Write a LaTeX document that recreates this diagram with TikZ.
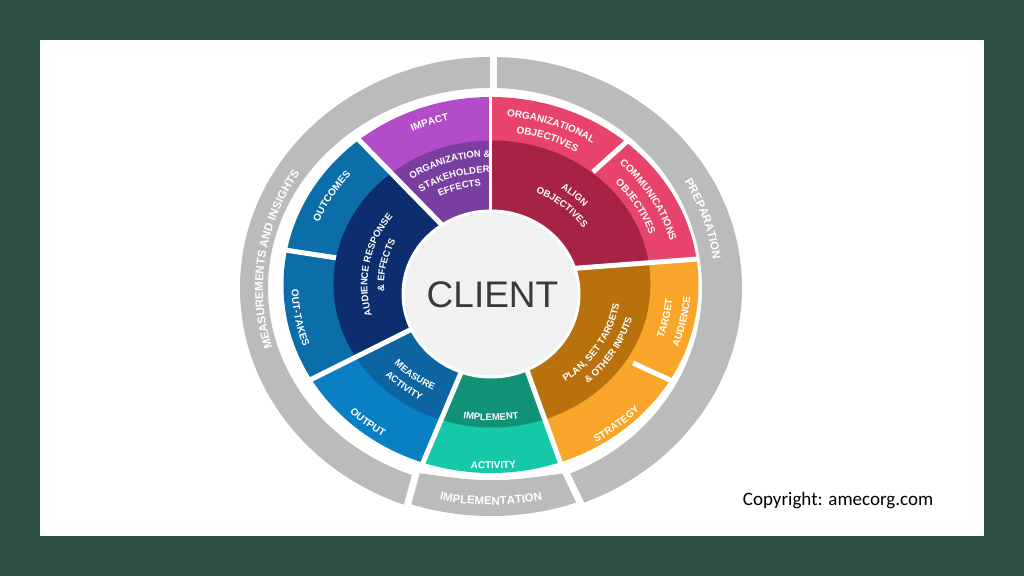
\documentclass[tikz,border=0pt]{standalone}
\usepackage{fontspec}
\setmainfont{Liberation Sans}
\newfontfamily\copyfont{Carlito}
\usetikzlibrary{calc,decorations.text}
\definecolor{bgc}{RGB}{47,79,71}
\definecolor{ringg}{RGB}{187,187,187}
\definecolor{impactc}{RGB}{178,76,200}
\definecolor{orgc}{RGB}{122,62,160}
\definecolor{pinkc}{RGB}{232,67,106}
\definecolor{alignc}{RGB}{166,35,68}
\definecolor{orangec}{RGB}{248,165,42}
\definecolor{planc}{RGB}{184,113,12}
\definecolor{tealc}{RGB}{20,200,168}
\definecolor{implc}{RGB}{16,146,118}
\definecolor{outputc}{RGB}{10,128,196}
\definecolor{measc}{RGB}{12,100,160}
\definecolor{outc}{RGB}{12,110,168}
\definecolor{navyc}{RGB}{12,46,110}
\definecolor{clientc}{RGB}{241,241,241}
\definecolor{clienttext}{RGB}{58,58,58}
\tikzset{
  gapline/.style={white, line width=5pt},
  ringgap/.style={white, line width=7pt},
}
\newcommand\gapdef[3]{%
  \coordinate (#1i) at #2; \coordinate (#1o) at #3;
  \coordinate (#1n) at ($(#1i)!-0.3!(#1o)$);
  \coordinate (#1f) at ($(#1i)!4!(#1o)$);}
\newcommand\segfill[3]{\fill[#1] (cc) -- (#2n) -- (#2f) -- (#3f) -- (#3n) -- cycle;}
% clockwise label (tops outward)
\newcommand\arccw[4]{%
  \path[decorate, decoration={text along path, text align=center,
    text={|\fontsize{#3}{#3}\selectfont\bfseries\color{white}|#4}}]
    ($(wc)+({#2*cos(#1+40)},{0.906*#2*sin(#1+40)})$)
    arc[start angle={#1+40}, end angle={#1-40}, x radius={#2}, y radius={0.906*#2}];}
% counter-clockwise label (tops inward)
\newcommand\arcccw[4]{%
  \path[decorate, decoration={text along path, text align=center,
    text={|\fontsize{#3}{#3}\selectfont\bfseries\color{white}|#4}}]
    ($(wc)+({#2*cos(#1-40)},{0.906*#2*sin(#1-40)})$)
    arc[start angle={#1-40}, end angle={#1+40}, x radius={#2}, y radius={0.906*#2}];}
\newcommand\ringcw[4]{%
  \path[decorate, decoration={text along path, text align=center,
    text={|\fontsize{11.5}{11.5}\selectfont\bfseries\color{white}|#4}}]
    ($(rc)+({#2*cos(#1+50)},{#3*sin(#1+50)})$)
    arc[start angle={#1+50}, end angle={#1-50}, x radius={#2}, y radius={#3}];}
\newcommand\ringccw[4]{%
  \path[decorate, decoration={text along path, text align=center,
    text={|\fontsize{11.5}{11.5}\selectfont\bfseries\color{white}|#4}}]
    ($(rc)+({#2*cos(#1-50)},{#3*sin(#1-50)})$)
    arc[start angle={#1-50}, end angle={#1+50}, x radius={#2}, y radius={#3}];}
\begin{document}
\begin{tikzpicture}[x=1pt,y=1pt]
\useasboundingbox (0,0) rectangle (1024,576);
\fill[bgc] (0,0) rectangle (1024,576);
\fill[white] (40,40) rectangle (984,536);
\coordinate (wc) at (491,291);
\coordinate (ic) at (492,292);
\coordinate (rc) at (491,288);
\coordinate (cc) at (491,282);
\gapdef{ga}{(490.5,365)}{(490.5,479)}
\gapdef{gb}{(440,353)}{(357,438)}
\gapdef{gc}{(337,318)}{(285,326)}
\gapdef{gd}{(410,246)}{(310,196)}
\gapdef{ge}{(460,201)}{(422,111)}
\gapdef{gf}{(528,203)}{(562,109)}
\gapdef{gg}{(633,213)}{(672,195)}
\gapdef{gh}{(579,308)}{(698,317)}
\gapdef{gi}{(593,404)}{(623,431)}
% outer band
\begin{scope}
\clip (wc) ellipse [x radius=207.5, y radius=188];
\segfill{impactc}{ga}{gb}
\segfill{outc}{gb}{gc}
\segfill{outc}{gc}{gd}
\segfill{outputc}{gd}{ge}
\segfill{tealc}{ge}{gf}
\segfill{orangec}{gf}{gg}
\segfill{orangec}{gg}{gh}
\segfill{pinkc}{gh}{gi}
\segfill{pinkc}{gi}{ga}
\end{scope}
\draw[gapline] (gci) -- ($(gci)!1.4!(gco)$);
\draw[gapline] (ggi) -- ($(ggi)!1.4!(ggo)$);
\draw[gapline] (gii) -- ($(gii)!1.4!(gio)$);
% inner band
\begin{scope}
\clip (ic) ellipse [x radius=158.5, y radius=143.5];
\segfill{orgc}{ga}{gb}
\segfill{navyc}{gb}{gd}
\segfill{measc}{gd}{ge}
\segfill{implc}{ge}{gf}
\segfill{planc}{gf}{gh}
\segfill{alignc}{gh}{ga}
\end{scope}
\draw[gapline, line width=3pt] (gan) -- ($(gai)!1.3!(gao)$);
\draw[gapline] (gbn) -- ($(gbi)!1.3!(gbo)$);
\draw[gapline] (gdn) -- ($(gdi)!1.3!(gdo)$);
\draw[gapline] (gen) -- ($(gei)!1.3!(geo)$);
\draw[gapline] (gfn) -- ($(gfi)!1.3!(gfo)$);
\draw[gapline] (ghn) -- ($(ghi)!1.3!(gho)$);
% client
\fill[clientc, draw=white, line width=3pt] (cc) ellipse [x radius=88, y radius=83];
% gray ring: measurements
\begin{scope}
\clip (493.5,288) -- (493.5,700) -- (-50,700) -- (-50,-60) -- (372.2,-60) -- (465.9,288) -- cycle;
\fill[ringg, even odd rule] (rc) ellipse [x radius=251, y radius=231] (rc) ellipse [x radius=223, y radius=200];
\end{scope}
% preparation
\begin{scope}
\clip (493.5,288) -- (493.5,700) -- (1100,700) -- (1100,-60) -- (644.3,-60) -- (519.5,200) -- (493.5,200) -- cycle;
\fill[ringg, even odd rule] (rc) ellipse [x radius=251, y radius=231] (rc) ellipse [x radius=211, y radius=200];
\end{scope}
% implementation
\begin{scope}
\clip (372.2,-60) -- (428.7,150) -- (543.5,150) -- (644.3,-60) -- cycle;
\clip (360,112) -- (400,105.5) .. controls (492,92.5) .. (584,105.5) -- (624,112) -- (624,0) -- (360,0) -- cycle;
\fill[ringg] (rc) ellipse [x radius=251, y radius=228];
\end{scope}
\draw[ringgap] (493.5,484) -- (493.5,525);
\draw[ringgap] (416.9,106) -- (401.5,49);
\draw[ringgap] (564.6,106) -- (592.0,49);
% ring labels
\ringcw{172}{228}{210}{MEASUREMENTS AND INSIGHTS}
\ringcw{18.5}{224}{211}{PREPARATION}
\ringccw{270}{236}{217}{IMPLEMENTATION}
% outer band labels
\arccw{109.7}{186.5}{10}{IMPACT}
\arccw{70.5}{186.5}{10}{ORGANIZATIONAL}
\arccw{70}{169.5}{10}{OBJECTIVES}
\arccw{29.8}{185.5}{10}{COMMUNICATIONS}
\arccw{29.8}{168}{10}{OBJECTIVES}
\arcccw{348.5}{182}{10}{TARGET}
\arcccw{348.6}{199.5}{10}{AUDIENCE}
\arcccw{310.2}{203}{10}{STRATEGY}
\arcccw{270.7}{203}{10}{ACTIVITY}
\arcccw{229.9}{199.5}{10}{OUTPUT}
\arcccw{190.3}{199.5}{10}{OUT-TAKES}
\arccw{149.5}{185.5}{10}{OUTCOMES}
% inner band labels
\arccw{107.7}{141.3}{9.5}{ORGANIZATION {\&}}
\arccw{108}{124.1}{9.5}{STAKEHOLDER}
\arccw{107}{110}{9.5}{EFFECTS}
\arccw{48.6}{127}{9.5}{ALIGN}
\arccw{49.2}{111.3}{9.5}{OBJECTIVES}
\arcccw{328.4}{130.2}{9.5}{PLAN, SET TARGETS}
\arcccw{329.4}{145.8}{9.5}{{\&} OTHER INPUTS}
\arcccw{270}{149.7}{9.5}{IMPLEMENT}
\arcccw{231.7}{130.1}{9.5}{MEASURE}
\arcccw{231}{145.3}{9.5}{ACTIVITY}
\arccw{169.2}{123.6}{9.5}{AUDIENCE RESPONSE}
\arccw{168.7}{106.9}{9.5}{{\&} EFFECTS}
% client text and copyright
\node[anchor=base, inner sep=0pt, font=\fontsize{37}{37}\selectfont, text=clienttext] (client) at (492.5,268) {CLIENT};
\node[anchor=base west, inner sep=0pt, font=\copyfont\fontsize{19}{19}\selectfont] (copyright) at (742.7,71) {Copyright: amecorg.com};
\end{tikzpicture}
\end{document}
